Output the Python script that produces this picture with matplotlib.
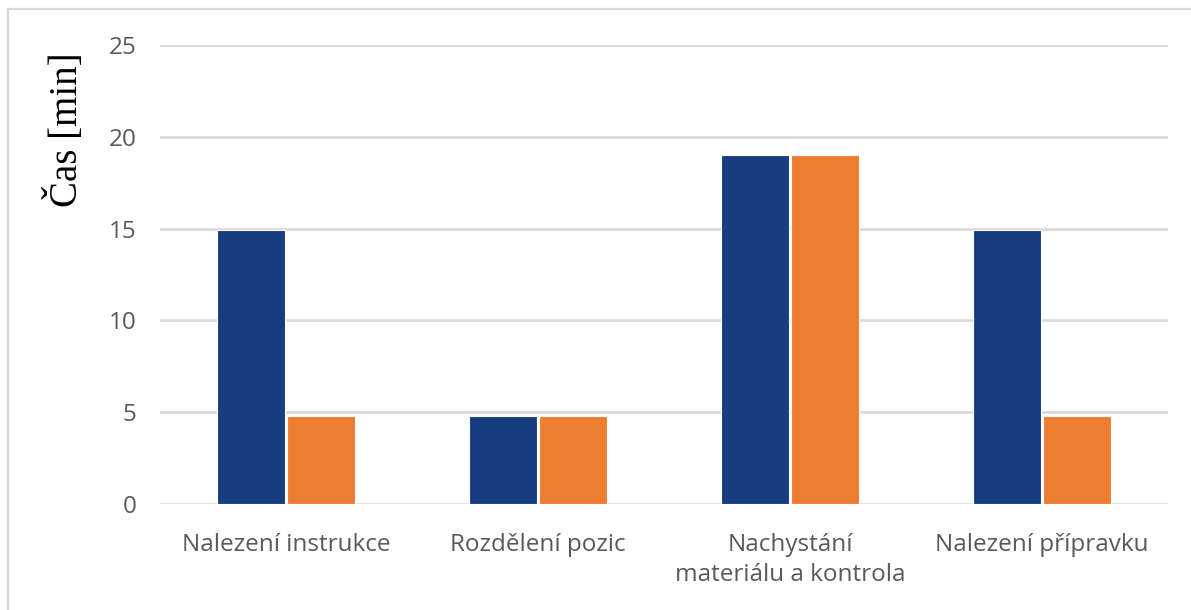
import matplotlib
matplotlib.use("Agg")
import matplotlib.pyplot as plt
import numpy as np

categories = ["Nalezení instrukce", "Rozdělení pozic", "Nachystání\nmateriálu a kontrola", "Nalezení přípravku"]
series_a = [14.9, 4.8, 19.0, 14.9]
series_b = [4.8, 4.8, 19.0, 4.8]
y_ticks = [0, 5, 10, 15, 20, 25]

W, H = 1191, 610
fig = plt.figure(figsize=(W / 100, H / 100), dpi=100)
ax = fig.add_axes([160 / W, 1 - 504 / H, (1168 - 160) / W, (504 - 45) / H])

x = np.arange(len(categories))
bw = 0.27
off = 0.14
ax.bar(x - off, series_a, width=bw, color="#173D80", edgecolor="white", linewidth=0.8, zorder=3)
ax.bar(x + off, series_b, width=bw, color="#ED7D31", edgecolor="white", linewidth=0.8, zorder=3)

ax.set_xlim(-0.5, len(categories) - 0.5)
ax.set_ylim(0, 25)
ax.set_yticks(y_ticks)
ax.set_xticks(x)
ax.set_xticklabels(categories, fontfamily="Open Sans", fontsize=17.5, color="#595959", linespacing=1.3)
ax.set_yticklabels([str(t) for t in y_ticks], fontfamily="Open Sans", fontsize=17.5, color="#595959")
ax.tick_params(axis="both", length=0)
ax.tick_params(axis="y", pad=17)
ax.tick_params(axis="x", pad=21)
ax.yaxis.grid(True, color="#D9D9D9", linewidth=1.9, zorder=0)
for s in ax.spines.values():
    s.set_visible(False)

ax.set_ylabel("Čas [min]", fontfamily="Liberation Serif", fontsize=28, color="black")
ax.yaxis.set_label_coords(-0.073, 0.815)

# light frame around the chart area
frame = plt.Rectangle((8 / W, -0.01), 1.02, 1 - 9 / H + 0.01, transform=fig.transFigure,
                      fill=False, edgecolor="#D9D9D9", linewidth=1.6)
fig.add_artist(frame)

fig.savefig("out.png", dpi=100)
